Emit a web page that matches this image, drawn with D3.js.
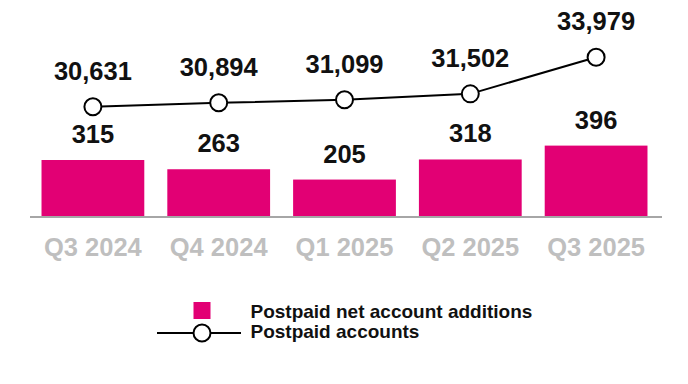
<!DOCTYPE html>
<html>
<head>
<meta charset="utf-8">
<script src="https://cdn.jsdelivr.net/npm/d3@7"></script>
<style>
  body { margin: 0; background: #fff; }
  svg { display: block; font-family: "Liberation Sans", Arial, sans-serif; font-weight: bold; }
</style>
</head>
<body>
<svg id="chart" width="688" height="384"></svg>
<script>
const QUARTERS = ["Q3 2024", "Q4 2024", "Q1 2025", "Q2 2025", "Q3 2025"]
const NET_ADDS = [315, 263, 205, 318, 396]
const ACCOUNTS = [30631, 30894, 31099, 31502, 33979]
const LEGEND_LABELS = ["Postpaid net account additions", "Postpaid accounts"]

const MAGENTA = "#e20074"
const fmt = d3.format(",")

const svg = d3.select("#chart")
const g = svg.append("g").attr("id", "graph-g")

// x band for bars, line points sit on band centers
const x = d3.scaleBand().domain(QUARTERS).range([30, 659]).paddingInner(0.183).paddingOuter(0.0915)
const cx = d => x(d) + x.bandwidth() / 2

const yBar = d3.scaleLinear().domain([0, 400]).range([216, 144.9])
const yLine = d3.scaleLinear().domain([30000, 34000]).range([116, 57])

const bars = QUARTERS.map((q, i) => ({ q: q, v: NET_ADDS[i] }))
const pts = QUARTERS.map((q, i) => ({ q: q, v: ACCOUNTS[i] }))

/* bars */
g.selectAll(".bar").data(bars).enter().append("rect")
  .attr("class", "bar")
  .attr("x", d => x(d.q))
  .attr("width", x.bandwidth())
  .attr("y", d => yBar(d.v))
  .attr("height", d => yBar(0) - yBar(d.v))
  .attr("fill", MAGENTA)

g.selectAll(".bar-label").data(bars).enter().append("text")
  .attr("class", "bar-label")
  .attr("x", d => cx(d.q))
  .attr("y", d => yBar(d.v) - 17)
  .attr("text-anchor", "middle")
  .attr("font-size", 25.5)
  .attr("fill", "#111")
  .text(d => d.v)

/* baseline axis */
g.append("line")
  .attr("x1", x.range()[0]).attr("x2", x.range()[1] + 3)
  .attr("y1", yBar(0) + 1).attr("y2", yBar(0) + 1)
  .attr("stroke", "#a6a6a6").attr("stroke-width", 2)

g.selectAll(".cat").data(QUARTERS).enter().append("text")
  .attr("class", "cat")
  .attr("x", d => cx(d))
  .attr("y", 256)
  .attr("text-anchor", "middle")
  .attr("font-size", 25.5)
  .attr("fill", "#bfbfbf")
  .text(d => d)

/* accounts line */
const line = d3.line().x(d => cx(d.q)).y(d => yLine(d.v))
g.append("path").datum(pts)
  .attr("d", line)
  .attr("fill", "none")
  .attr("stroke", "#000")
  .attr("stroke-width", 2)

g.selectAll(".pt").data(pts).enter().append("circle")
  .attr("class", "pt")
  .attr("cx", d => cx(d.q))
  .attr("cy", d => yLine(d.v))
  .attr("r", 8.5)
  .attr("fill", "#fff")
  .attr("stroke", "#000")
  .attr("stroke-width", 2)

g.selectAll(".pt-label").data(pts).enter().append("text")
  .attr("class", "pt-label")
  .attr("x", d => cx(d.q))
  .attr("y", d => yLine(d.v) - 27)
  .attr("text-anchor", "middle")
  .attr("font-size", 25.5)
  .attr("fill", "#111")
  .text(d => fmt(d.v))

/* legend */
const lg = svg.append("g").attr("transform", "translate(202,0)")
lg.append("rect").attr("x", -8.5).attr("y", 302).attr("width", 17).attr("height", 17).attr("fill", MAGENTA)
lg.append("line").attr("x1", -45).attr("x2", 39).attr("y1", 333).attr("y2", 333)
  .attr("stroke", "#000").attr("stroke-width", 2)
lg.append("circle").attr("cx", 0).attr("cy", 333).attr("r", 8.5)
  .attr("fill", "#fff").attr("stroke", "#000").attr("stroke-width", 2)
lg.selectAll(".lg-text").data(LEGEND_LABELS).enter().append("text")
  .attr("class", "lg-text")
  .attr("x", 48.5)
  .attr("y", (d, i) => 318 + i * 20)
  .attr("font-size", 19)
  .attr("fill", "#111")
  .text(d => d)
</script>
</body>
</html>
